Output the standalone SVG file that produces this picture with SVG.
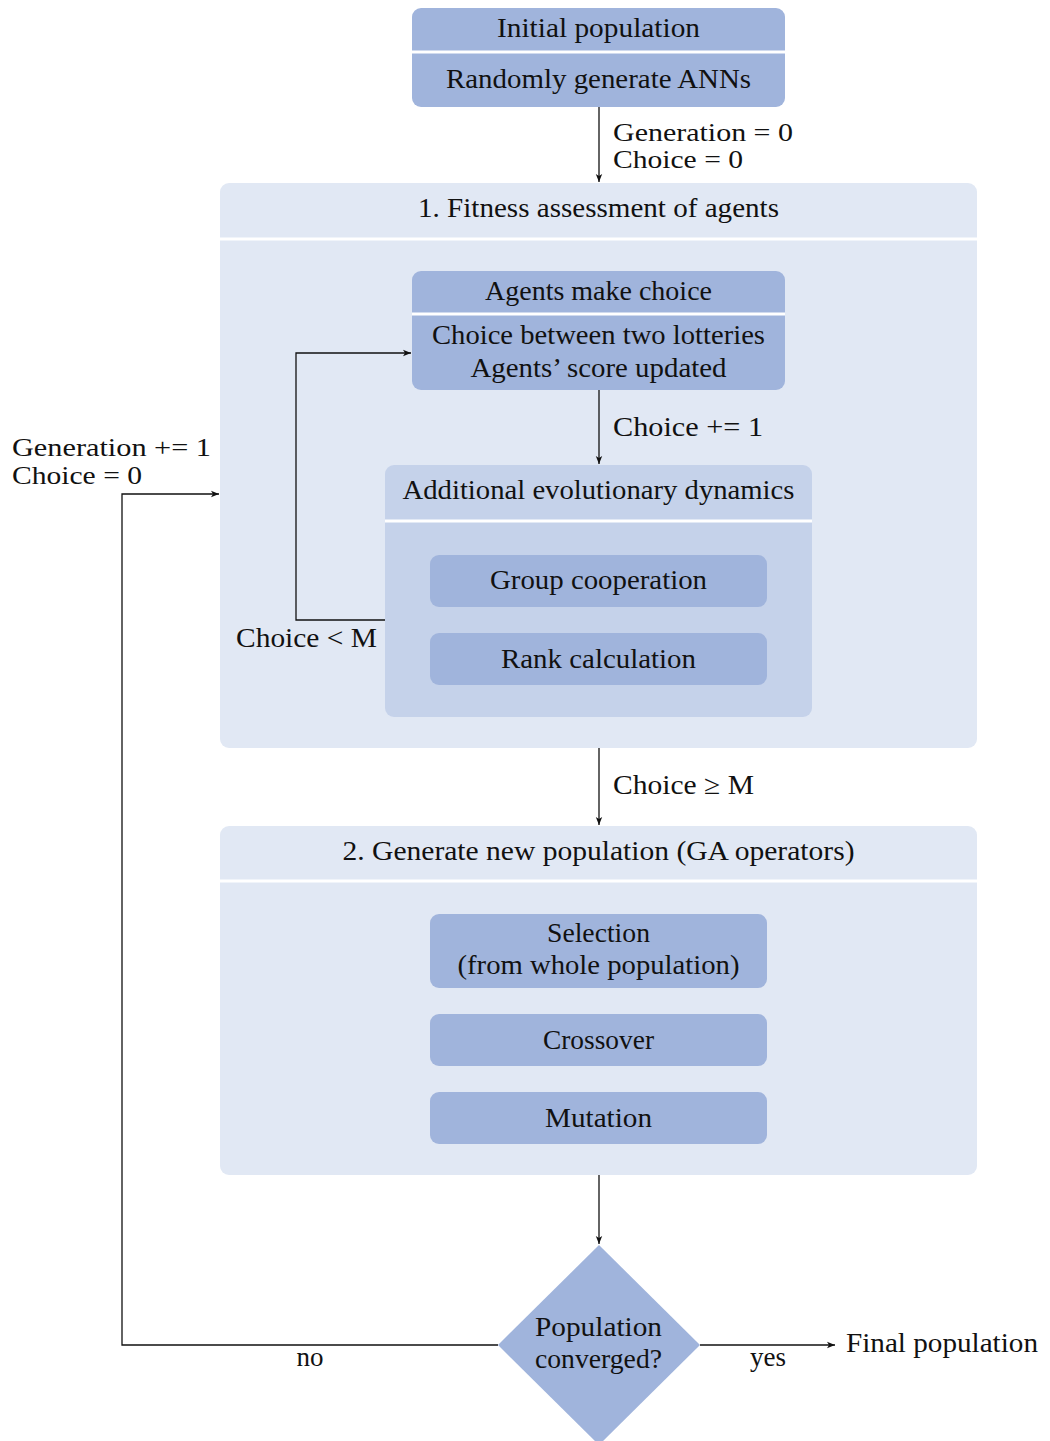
<svg xmlns="http://www.w3.org/2000/svg" width="1050" height="1441" viewBox="0 0 1050 1441">
<style>
text{font-family:"Liberation Serif","Times New Roman",serif;font-size:27px;fill:#111;}
.c{text-anchor:middle;}
.s{font-size:25px;}
.dark{fill:#a0b4dc;}
.light{fill:#e1e8f4;}
.mid{fill:#c5d2ea;}
.sep{stroke:#fff;stroke-width:3;}
.edge{fill:none;stroke:#111;stroke-width:1.3;}
</style>
<defs>
<marker id="ah" viewBox="0 0 10 10" refX="10" refY="5" markerWidth="8" markerHeight="8" markerUnits="userSpaceOnUse" orient="auto">
<path d="M0,1 L10,5 L0,9 L2.5,5 Z" fill="#111"/>
</marker>
</defs>

<g id="initial">
<rect class="dark" x="412" y="8" width="373" height="99" rx="9"/>
<line class="sep" x1="412" y1="52" x2="785" y2="52"/>
<text class="c" x="598.5" y="37" textLength="203" lengthAdjust="spacingAndGlyphs">Initial population</text>
<text class="c" x="598.5" y="88" textLength="305" lengthAdjust="spacingAndGlyphs">Randomly generate ANNs</text>
</g>

<g id="fitness">
<rect class="light" x="220" y="183" width="757" height="565" rx="9"/>
<line class="sep" x1="220" y1="239" x2="977" y2="239"/>
<text class="c" x="598.5" y="217" textLength="361" lengthAdjust="spacingAndGlyphs">1. Fitness assessment of agents</text>
</g>

<g id="choice">
<rect class="dark" x="412" y="271" width="373" height="119" rx="9"/>
<line class="sep" x1="412" y1="314" x2="785" y2="314"/>
<text class="c" x="598.5" y="300" textLength="227" lengthAdjust="spacingAndGlyphs">Agents make choice</text>
<text class="c" x="598.5" y="344" textLength="333" lengthAdjust="spacingAndGlyphs">Choice between two lotteries</text>
<text class="c" x="598.5" y="377" textLength="256" lengthAdjust="spacingAndGlyphs">Agents’ score updated</text>
</g>

<g id="additional">
<rect class="mid" x="385" y="465" width="427" height="252" rx="9"/>
<line class="sep" x1="385" y1="521" x2="812" y2="521"/>
<text class="c" x="598.5" y="499" textLength="392" lengthAdjust="spacingAndGlyphs">Additional evolutionary dynamics</text>
</g>

<g id="group">
<rect class="dark" x="430" y="555" width="337" height="52" rx="9"/>
<text class="c" x="598.5" y="589" textLength="217" lengthAdjust="spacingAndGlyphs">Group cooperation</text>
</g>

<g id="rank">
<rect class="dark" x="430" y="633" width="337" height="52" rx="9"/>
<text class="c" x="598.5" y="668" textLength="195" lengthAdjust="spacingAndGlyphs">Rank calculation</text>
</g>

<g id="generate">
<rect class="light" x="220" y="826" width="757" height="349" rx="9"/>
<line class="sep" x1="220" y1="881" x2="977" y2="881"/>
<text class="c" x="598.5" y="860" textLength="512" lengthAdjust="spacingAndGlyphs">2. Generate new population (GA operators)</text>
</g>

<g id="selection">
<rect class="dark" x="430" y="914" width="337" height="74" rx="9"/>
<text class="c" x="598.5" y="942" textLength="103" lengthAdjust="spacingAndGlyphs">Selection</text>
<text class="c" x="598.5" y="974" textLength="282" lengthAdjust="spacingAndGlyphs">(from whole population)</text>
</g>

<g id="crossover">
<rect class="dark" x="430" y="1014" width="337" height="52" rx="9"/>
<text class="c" x="598.5" y="1049" textLength="111" lengthAdjust="spacingAndGlyphs">Crossover</text>
</g>

<g id="mutation">
<rect class="dark" x="430" y="1092" width="337" height="52" rx="9"/>
<text class="c" x="598.5" y="1127" textLength="107" lengthAdjust="spacingAndGlyphs">Mutation</text>
</g>

<g id="converged">
<polygon class="dark" points="599,1245 700,1345 599,1445 498,1345"/>
<text class="c" x="598.5" y="1336" textLength="127" lengthAdjust="spacingAndGlyphs">Population</text>
<text class="c" x="598.5" y="1368" textLength="127" lengthAdjust="spacingAndGlyphs">converged?</text>
</g>

<g id="final">
<text x="846" y="1352" textLength="192" lengthAdjust="spacingAndGlyphs">Final population</text>
</g>

<g id="connectors">
<line class="edge" x1="599" y1="107" x2="599" y2="182" marker-end="url(#ah)"/>
<text class="s" x="613" y="141" textLength="180" lengthAdjust="spacingAndGlyphs">Generation = 0</text>
<text class="s" x="613" y="168" textLength="130" lengthAdjust="spacingAndGlyphs">Choice = 0</text>

<line class="edge" x1="599" y1="390" x2="599" y2="464" marker-end="url(#ah)"/>
<text x="613" y="436" textLength="150" lengthAdjust="spacingAndGlyphs">Choice += 1</text>

<polyline class="edge" points="385,620 296,620 296,353 411,353" marker-end="url(#ah)"/>
<text x="236" y="647" textLength="141" lengthAdjust="spacingAndGlyphs">Choice &lt; M</text>

<line class="edge" x1="599" y1="748" x2="599" y2="825" marker-end="url(#ah)"/>
<text x="613" y="794" textLength="141" lengthAdjust="spacingAndGlyphs">Choice ≥ M</text>

<line class="edge" x1="599" y1="1175" x2="599" y2="1244" marker-end="url(#ah)"/>

<polyline class="edge" points="498,1345 122,1345 122,494 219,494" marker-end="url(#ah)"/>
<text class="c" x="310" y="1366">no</text>
<text class="s" x="12" y="456" textLength="199" lengthAdjust="spacingAndGlyphs">Generation += 1</text>
<text class="s" x="12" y="484" textLength="130" lengthAdjust="spacingAndGlyphs">Choice = 0</text>

<line class="edge" x1="700" y1="1345" x2="835" y2="1345" marker-end="url(#ah)"/>
<text class="c" x="768" y="1366">yes</text>
</g>
</svg>
